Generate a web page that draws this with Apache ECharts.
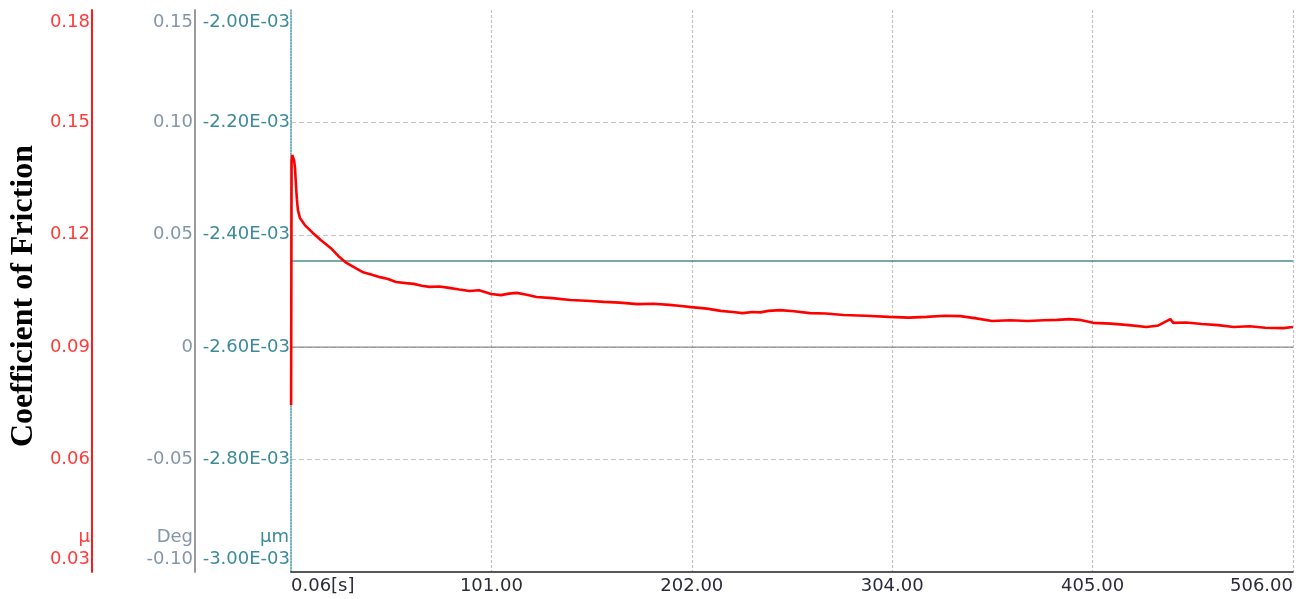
<!DOCTYPE html>
<html>
<head>
<meta charset="utf-8">
<script src="https://cdn.jsdelivr.net/npm/echarts@6/dist/echarts.min.js"></script>
<style>
html,body{margin:0;padding:0;background:#fff;}
#chart{width:1306px;height:599px;}
</style>
</head>
<body>
<div id="chart"></div>
<script>
// ---- data ----
const timeS = [0.06, 0.3, 0.6, 1.0, 1.5, 2.0, 2.5, 3.0, 3.5, 4.5, 7, 11, 15, 20, 24, 28, 32, 36, 40, 45, 49, 53, 58, 62, 66, 70, 75, 79, 85, 90, 95, 101, 106, 110, 114, 119, 124, 132, 141, 149, 158, 166, 175, 183, 191, 197, 202, 210, 217, 223, 228, 233, 237, 241, 247, 254, 262, 270, 279, 290, 302, 312, 321, 330, 338, 346, 354, 363, 372, 380, 387, 393, 398, 405, 414, 423, 432, 438, 444, 445.5, 452, 460, 468, 476, 484, 492, 501, 505.9];
const frictionMu = [0.0746, 0.1395, 0.1413, 0.1408, 0.1400, 0.1381, 0.1333, 0.1293, 0.1266, 0.1245, 0.1226, 0.1205, 0.1186, 0.1165, 0.1143, 0.1125, 0.1113, 0.1101, 0.1095, 0.1087, 0.1082, 0.1074, 0.1071, 0.1069, 0.1064, 0.1061, 0.1062, 0.1059, 0.1054, 0.1050, 0.1052, 0.1042, 0.1039, 0.1043, 0.1045, 0.1040, 0.1034, 0.1031, 0.1026, 0.1024, 0.1021, 0.1019, 0.1015, 0.1016, 0.1013, 0.1010, 0.1007, 0.1003, 0.0997, 0.0994, 0.0991, 0.0994, 0.0993, 0.0997, 0.0999, 0.0996, 0.0991, 0.0990, 0.0986, 0.0984, 0.0981, 0.0979, 0.0981, 0.0984, 0.0983, 0.0977, 0.0970, 0.0972, 0.0970, 0.0972, 0.0973, 0.0975, 0.0973, 0.0965, 0.0963, 0.0959, 0.0954, 0.0958, 0.0975, 0.0965, 0.0966, 0.0962, 0.0959, 0.0954, 0.0956, 0.0952, 0.0951, 0.0954];
const angleTime = [0, 505.94];
const angleDeg = [0, 0];
const depthTime = [0, 505.94];
const depthUm = [-0.0024466, -0.0024466];
const xTickLabels = ['0.06[s]', '101.00', '202.00', '304.00', '405.00', '506.00'];
const yTitle = 'Coefficient of Friction';
const units = ['μ', 'Deg', 'μm'];

// ---- chart ----
const xStep = 101.188;
const zip = (a, b) => a.map((v, i) => [v, b[i]]);
const chart = echarts.init(document.getElementById('chart'));
const baseFont = 'DejaVu Sans';

function unitName(text, color) {
  return {
    name: text, nameLocation: 'start', nameGap: -26,
    nameTextStyle: { color: color, fontSize: 18, fontFamily: baseFont, align: 'right', verticalAlign: 'bottom', padding: [0, 2, 0, 0] }
  };
}
function yLabel(color, fmt) {
  return { color: color, fontSize: 18, fontFamily: baseFont, margin: 2, lineHeight: 25,
    verticalAlignMinLabel: 'bottom', verticalAlignMaxLabel: 'top', formatter: fmt };
}

chart.setOption({
  animation: false,
  backgroundColor: '#fff',
  grid: { left: 291, right: 13, top: 10, bottom: 27, containLabel: false },
  xAxis: {
    type: 'value', min: 0, max: xStep * 5, interval: xStep,
    axisLine: { show: true, onZero: false, lineStyle: { color: '#222', width: 1.5 } },
    axisTick: { show: false },
    axisLabel: {
      color: '#2b2b3a', fontSize: 18, fontFamily: baseFont, margin: 5,
      alignMinLabel: 'left', alignMaxLabel: 'right',
      formatter: v => xTickLabels[Math.round(v / xStep)] || ''
    },
    splitLine: { show: true, showMinLine: false, lineStyle: { color: '#c2c2c2', type: [3, 2], width: 1.2 } }
  },
  yAxis: [
    Object.assign({
      type: 'value', min: 0.03, max: 0.18, interval: 0.03, position: 'left', offset: 199,
      axisLine: { show: true, onZero: false, lineStyle: { color: '#ff1a1a', width: 2 } },
      axisTick: { show: false },
      axisLabel: yLabel('#ff3b3b', v => v.toFixed(2)),
      splitLine: { show: true, showMinLine: false, showMaxLine: false, lineStyle: { color: '#c4c4c4', type: [5, 3], width: 1 } }
    }, unitName(units[0], '#ff3b3b')),
    Object.assign({
      type: 'value', min: -0.10, max: 0.15, interval: 0.05, position: 'left', offset: 96,
      axisLine: { show: true, onZero: false, lineStyle: { color: '#9a9a9a', width: 2 } },
      axisTick: { show: false },
      axisLabel: yLabel('#8496aa', v => Math.abs(v) < 1e-9 ? '0' : v.toFixed(2)),
      splitLine: { show: false }
    }, unitName(units[1], '#8496aa')),
    Object.assign({
      type: 'value', min: -0.003, max: -0.002, interval: 0.0002, position: 'left', offset: 0,
      axisLine: { show: true, onZero: false, lineStyle: { color: '#4a9aa8', width: 1.5, type: 'dotted' } },
      axisTick: { show: false },
      axisLabel: Object.assign(yLabel('#3b8b9b', v => v.toExponential(2).toUpperCase().replace(/E([+-])(\d)$/, 'E$10$2')), { margin: 1 }),
      splitLine: { show: false }
    }, unitName(units[2], '#3b8b9b'))
  ],
  graphic: [{
    type: 'text', x: 24, y: 296, rotation: Math.PI / 2,
    style: { text: yTitle, font: 'bold 32px "Liberation Serif", serif', fill: '#000', align: 'center', verticalAlign: 'middle' }
  }],
  series: [
    { type: 'line', yAxisIndex: 1, data: zip(angleTime, angleDeg), symbol: 'none', z: 2,
      lineStyle: { color: '#8a8a8a', width: 1.3 } },
    { type: 'line', yAxisIndex: 2, data: zip(depthTime, depthUm), symbol: 'none', z: 3,
      lineStyle: { color: '#4b8c8c', width: 1.3 } },
    { type: 'line', yAxisIndex: 0, data: zip(timeS, frictionMu), symbol: 'none', z: 5,
      lineStyle: { color: '#ff0000', width: 2.6 } }
  ]
});
</script>
</body>
</html>
